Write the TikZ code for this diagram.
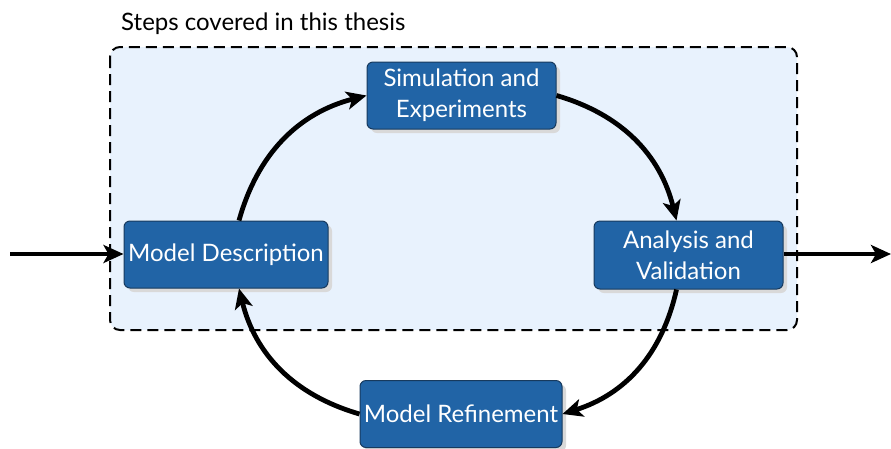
\documentclass[tikz,border=0pt]{standalone}
\usepackage{fontspec}
\setmainfont{Lato}
\usetikzlibrary{arrows.meta,shadows}
\definecolor{boxfill}{HTML}{2164A6}
\definecolor{boxdraw}{HTML}{173A5E}
\definecolor{bgfill}{HTML}{E8F2FD}
\begin{document}
\begin{tikzpicture}[x=1pt,y=-1pt,
  stepbox/.style={draw=boxdraw, line width=1pt, fill=boxfill, rounded corners=6pt,
    text=white, align=center, font=\fontsize{24}{31}\selectfont, inner sep=0pt,
    drop shadow={shadow xshift=4pt, shadow yshift=-4pt, fill=black!15, opacity=1}},
  flow/.style={line width=4.8pt, -{Stealth[length=20pt,width=18pt,inset=5pt]}}]
\useasboundingbox (0,0) rectangle (891,448);
\draw[dash pattern=on 11pt off 6pt, line width=2pt, fill=bgfill, rounded corners=10pt]
  (110,47) rectangle (797,330);
\node[anchor=base west, font=\fontsize{24}{28}\selectfont, inner sep=0pt] (title) at (121,30) {Steps covered in this thesis};
\node[stepbox, minimum width=189pt, minimum height=67pt] (sim) at (461.5,95.5) {Simulation and\\Experiments};
\node[stepbox, minimum width=204pt, minimum height=67pt] (md) at (226,254.5) {Model Description};
\node[stepbox, minimum width=189pt, minimum height=68pt] (an) at (688.5,255) {Analysis and\\Validation};
\node[stepbox, minimum width=202pt, minimum height=67pt] (ref) at (461,414) {Model Refinement};
\coordinate (in) at (10,254);
\coordinate (out) at (891,254);
\draw[flow] (in) -- (md.west |- in);
\draw[flow] (an.east |- out) -- (out);
\draw[flow] ([xshift=13pt]md.north) to[bend left=30] (sim.west);
\draw[flow] (sim.east) to[bend left=30] ([xshift=-12pt]an.north);
\draw[flow] ([xshift=-12pt]an.south) to[bend left=30] (ref.east);
\draw[flow] (ref.west) to[bend left=30] ([xshift=13pt]md.south);
\end{tikzpicture}
\end{document}
